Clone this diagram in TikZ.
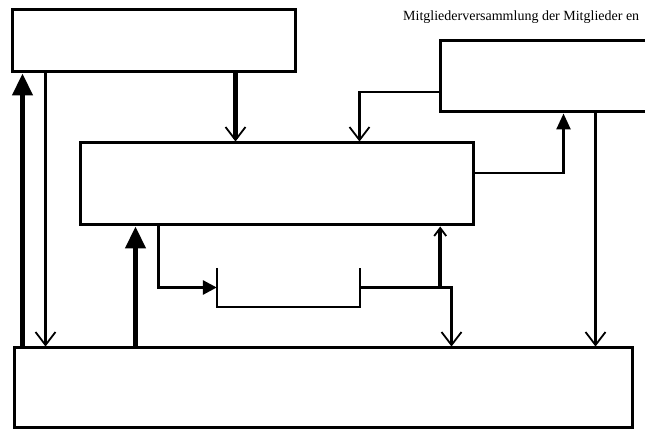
\documentclass[tikz,border=0pt]{standalone}
\usepackage{fontspec}
\setmainfont{Liberation Serif}
\usetikzlibrary{arrows.meta, positioning}

\begin{document}
\begin{tikzpicture}[
        x=1pt, y=1pt,
        block/.style={rectangle, draw, line width=3pt, inner sep=0pt},
        hidden/.style={rectangle, draw=none, inner sep=0pt},
        bigflow/.style={line width=4.5pt, -{Triangle[length=22pt, width=20pt]}},
        upflow/.style={line width=2.5pt, -{Triangle[length=16pt, width=14pt]}},
        downflow/.style={line width=2.5pt, -{Straight Barb[length=13pt, width=20pt, line width=1.8pt]}},
        caption/.style={font=\fontsize{14}{16}\selectfont, inner sep=0pt}
        ]
        \useasboundingbox (0,0) rectangle (645,430);

        % Blocks
        \node[block, minimum width=283, minimum height=62] (top) at (153.5,389) {};
        \node[block, minimum width=230, minimum height=71] (tr) at (555,353.5) {};
        \node[block, minimum width=393, minimum height=82] (mid) at (276.5,246) {};
        \node[block, minimum width=618, minimum height=80] (bot) at (323,42) {};
        \node[hidden, minimum width=143, minimum height=39] (store) at (288.5,142.5) {};
        \draw[line width=2.5pt] (store.north west) -- (store.south west)
            -- (store.south east) -- (store.north east);

        % Label
        \node[caption, anchor=base west] (title) at (403,409) {Mitgliederversammlung der Mitglieder en};

        % Left connections
        \draw[bigflow] ([xshift=10]bot.north west) -- ([xshift=10]bot.north west |- top.south);
        \draw[downflow] ([xshift=35]top.south west) -- ([xshift=35]top.south west |- bot.north);
        \draw[downflow, line width=4.5pt] ([xshift=225]top.south west) -- ([xshift=225]top.south west |- mid.north);
        \draw[bigflow] ([xshift=123]bot.north west) -- ([xshift=123]bot.north west |- mid.south);

        % Right connections
        \draw[downflow] ([yshift=-15.5]tr.west) -| ([xshift=281]mid.north west);
        \draw[upflow] ([yshift=11]mid.east) -| ([xshift=125]tr.south west);
        \draw[downflow] ([xshift=157]tr.south west) -- ([xshift=157]tr.south west |- bot.north);

        % Store
        \draw[upflow, line width=3pt, -{Triangle[length=14pt, width=14pt]}] ([xshift=80]mid.south west) |- (store.west);
        \draw[downflow] (store.east) -| ([xshift=439]bot.north west);
        \draw[line width=3.5pt, -{Straight Barb[length=8pt, width=12pt, line width=1.8pt]}] ([xshift=80]store.east) -- ([xshift=80]store.east |- mid.south);

    \end{tikzpicture}
\end{document}
